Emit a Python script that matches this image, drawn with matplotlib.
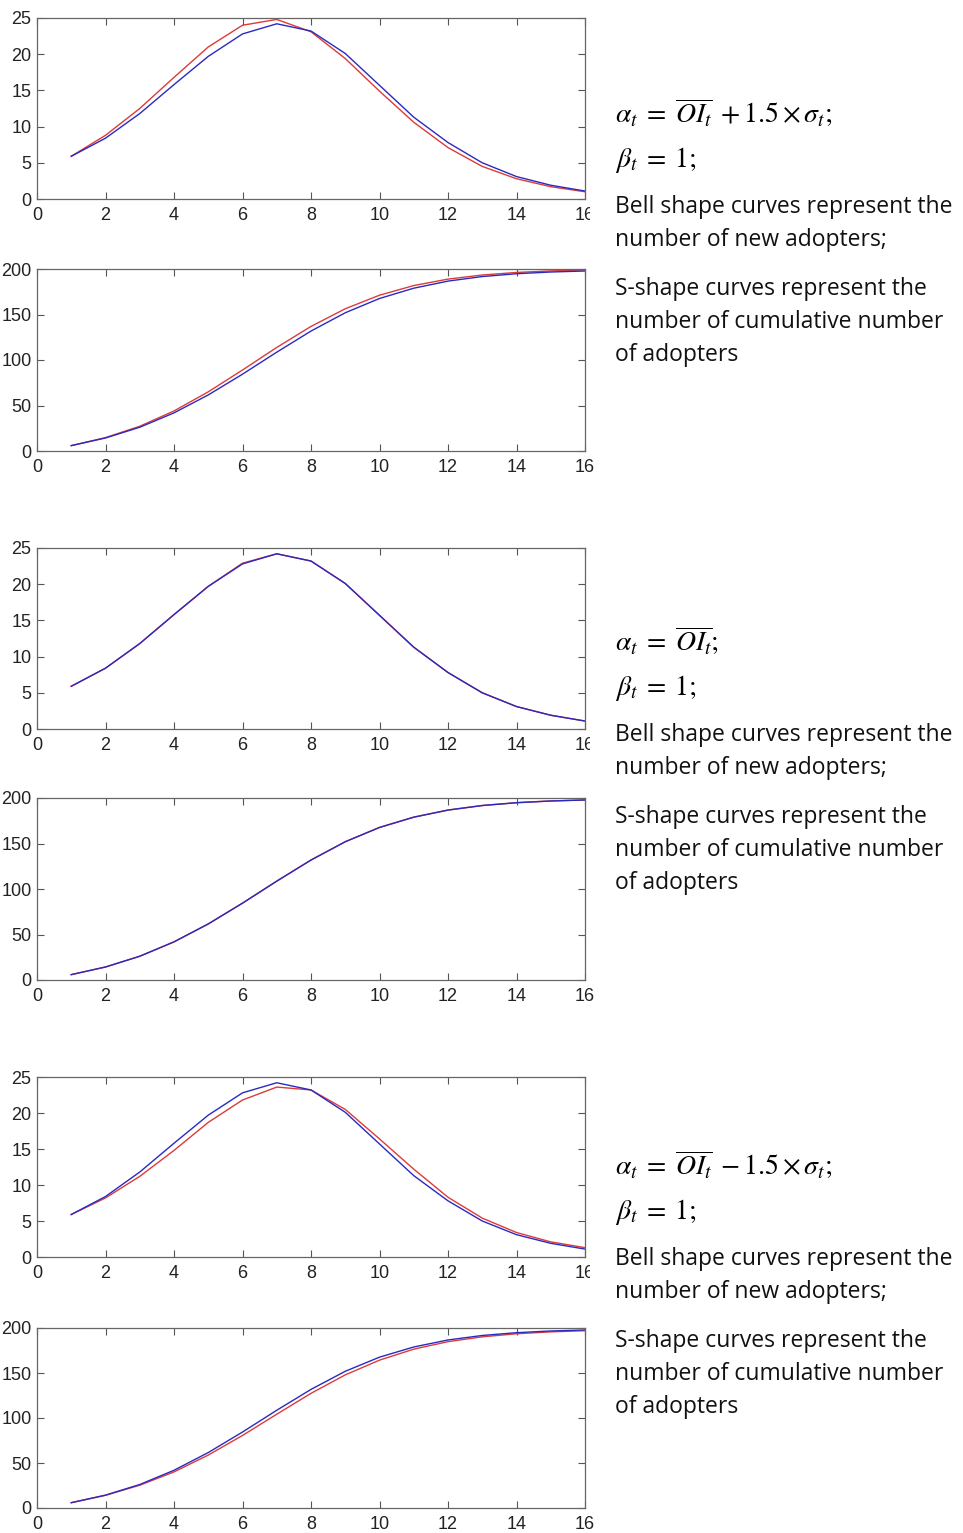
import numpy as np
import matplotlib.pyplot as plt
from matplotlib.patches import Rectangle

plt.rcParams['mathtext.fontset'] = 'stix'
plt.rcParams['font.family'] = ['Liberation Sans', 'DejaVu Sans']
plt.rcParams['xtick.labelsize'] = 13
plt.rcParams['ytick.labelsize'] = 13

t = list(range(1, 17))

# new adopters per period (bell curves)
new_base = [5.9, 8.4, 11.8, 15.8, 19.7, 22.8, 24.2, 23.2, 20.1, 15.7, 11.3, 7.8, 5.0, 3.1, 1.9, 1.1]
new_plus = [5.9, 8.8, 12.5, 16.8, 21.0, 24.0, 24.8, 23.1, 19.4, 14.9, 10.6, 7.1, 4.5, 2.8, 1.7, 1.0]
new_mean = [5.9, 8.4, 11.8, 15.8, 19.7, 22.9, 24.2, 23.2, 20.1, 15.7, 11.3, 7.8, 5.0, 3.1, 1.9, 1.1]
new_minus = [5.9, 8.2, 11.2, 14.8, 18.7, 21.8, 23.6, 23.2, 20.5, 16.4, 12.2, 8.3, 5.4, 3.4, 2.1, 1.3]

# cumulative adopters (S curves)
cum_base = [5.9, 14.3, 26.1, 41.9, 61.6, 84.4, 108.6, 131.8, 151.9, 167.6, 178.9, 186.7, 191.7, 194.8, 196.7, 197.8]
cum_plus = [5.9, 14.7, 27.2, 44.0, 65.0, 89.0, 113.8, 136.9, 156.3, 171.2, 181.8, 188.9, 193.4, 196.2, 197.9, 198.9]
cum_mean = [5.9, 14.3, 26.1, 41.9, 61.6, 84.5, 108.7, 131.9, 152.0, 167.7, 179.0, 186.8, 191.8, 194.9, 196.8, 197.9]
cum_minus = [5.9, 14.1, 25.3, 40.1, 58.8, 80.6, 104.2, 127.4, 147.9, 164.3, 176.5, 184.8, 190.2, 193.6, 195.7, 197.0]

alpha_labels = [
    r'$\alpha_t\;=\;\overline{OI_t}\;+1.5\times\sigma_t;$',
    r'$\alpha_t\;=\;\overline{OI_t};$',
    r'$\alpha_t\;=\;\overline{OI_t}\;-1.5\times\sigma_t;$',
]
beta_label = r'$\beta_t\;=\;1;$'
notes = ['Bell shape curves represent the', 'number of new adopters;',
         'S-shape curves represent the', 'number of cumulative number', 'of adopters']

RED = '#dd3a3a'
BLUE = '#2a2ac0'
W, H = 963, 1533

fig = plt.figure(figsize=(W / 100, H / 100), dpi=100)


def make_axes(top, bottom, left=37, right=585):
    return fig.add_axes([left / W, 1 - bottom / H, (right - left) / W, (bottom - top) / H])


def style(ax, ymax, ystep):
    ax.set_xlim(0, 16)
    ax.set_ylim(0, ymax)
    ax.set_xticks(range(0, 17, 2))
    ax.set_yticks(np.arange(0, ymax + 1, ystep))
    ax.tick_params(direction='in', top=True, right=True, length=5, width=0.8,
                   color='#555555', labelcolor='#222222')
    ax.tick_params(axis='x', pad=6)
    ax.tick_params(axis='y', pad=4)
    for s in ax.spines.values():
        s.set_color('#666666')
        s.set_linewidth(0.9)


groups = [
    (new_plus, new_base, cum_plus, cum_base, 18, 199, 269, 451),
    (new_mean, new_base, cum_mean, cum_base, 548, 729, 798, 980),
    (new_minus, new_base, cum_minus, cum_base, 1077, 1257, 1328, 1508),
]

text_tops = [113, 641, 1165]

for i, (nr, nb, cr, cb, t1, b1, t2, b2) in enumerate(groups):
    ax1 = make_axes(t1, b1)
    ax1.plot(t, nr, color=RED, lw=1.0)
    ax1.plot(t, nb, color=BLUE, lw=1.0)
    style(ax1, 25, 5)

    ax2 = make_axes(t2, b2)
    ax2.plot(t, cr, color=RED, lw=1.0)
    ax2.plot(t, cb, color=BLUE, lw=1.0)
    style(ax2, 200, 50)

    # the text column cuts off the right end of the bell panel's last tick label
    fig.add_artist(Rectangle((590 / W, 1 - (b1 + 26) / H), 20 / W, 22 / H,
                             transform=fig.transFigure, facecolor='white',
                             edgecolor='none', zorder=5))

    y0 = text_tops[i]
    fig.text(615 / W, 1 - y0 / H, alpha_labels[i], fontsize=20, va='center', ha='left')
    fig.text(615 / W, 1 - (y0 + 47) / H, beta_label, fontsize=20, va='center', ha='left')
    offs = [94, 127, 176, 209, 242]
    for off, line in zip(offs, notes):
        fig.text(615 / W, 1 - (y0 + off) / H, line, fontsize=16.5, va='center',
                 ha='left', family='Open Sans', color='#111111', zorder=6)

fig.savefig('out.png', dpi=100)
